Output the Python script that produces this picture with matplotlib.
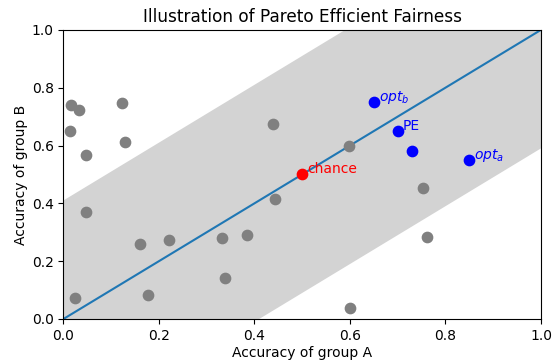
import numpy as np
import matplotlib
matplotlib.use("Agg")
import matplotlib.pyplot as plt

# grey random classifiers (accuracy A, accuracy B)
grey_a = [0.015, 0.032, 0.013, 0.048, 0.048, 0.025, 0.122, 0.128, 0.160, 0.221,
          0.177, 0.331, 0.339, 0.385, 0.438, 0.444, 0.598, 0.600, 0.754, 0.762]
grey_b = [0.740, 0.722, 0.650, 0.567, 0.369, 0.072, 0.747, 0.612, 0.258, 0.272,
          0.084, 0.279, 0.141, 0.291, 0.676, 0.416, 0.600, 0.038, 0.452, 0.283]

# highlighted points
blue_a = [0.65, 0.70, 0.73, 0.85]
blue_b = [0.75, 0.65, 0.58, 0.55]
blue_labels = ["$opt_b$", "PE", "", "$opt_a$"]
chance_a, chance_b = 0.5, 0.5

band = 0.41

fig = plt.figure(figsize=(5.52, 3.6), dpi=100)
ax = fig.add_axes([0.115, 0.114, 0.865, 0.803])

xs = np.array([0.0, 1.0])
ax.fill_between(xs, xs - band, xs + band, color='lightgrey', linewidth=0)
ax.plot(xs, xs, color='#1f77b4', linewidth=1.5)

ax.scatter(grey_a, grey_b, color='grey', s=55, zorder=3)
ax.scatter(blue_a, blue_b, color='blue', s=55, zorder=3)
ax.scatter([chance_a], [chance_b], color='red', s=55, zorder=3)

for a, b, t in zip(blue_a, blue_b, blue_labels):
    if t:
        ax.text(a + 0.01, b + 0.005, t, color='blue', fontsize=10)
ax.text(chance_a + 0.01, chance_b + 0.005, "chance", color='red', fontsize=10)

ax.set_xlim(0, 1)
ax.set_ylim(0, 1)
ax.set_xlabel("Accuracy of group A", labelpad=2.5)
ax.set_ylabel("Accuracy of group B", labelpad=3)
ax.set_title("Illustration of Pareto Efficient Fairness", fontsize=12.2)

fig.savefig("out.png", dpi=100)
